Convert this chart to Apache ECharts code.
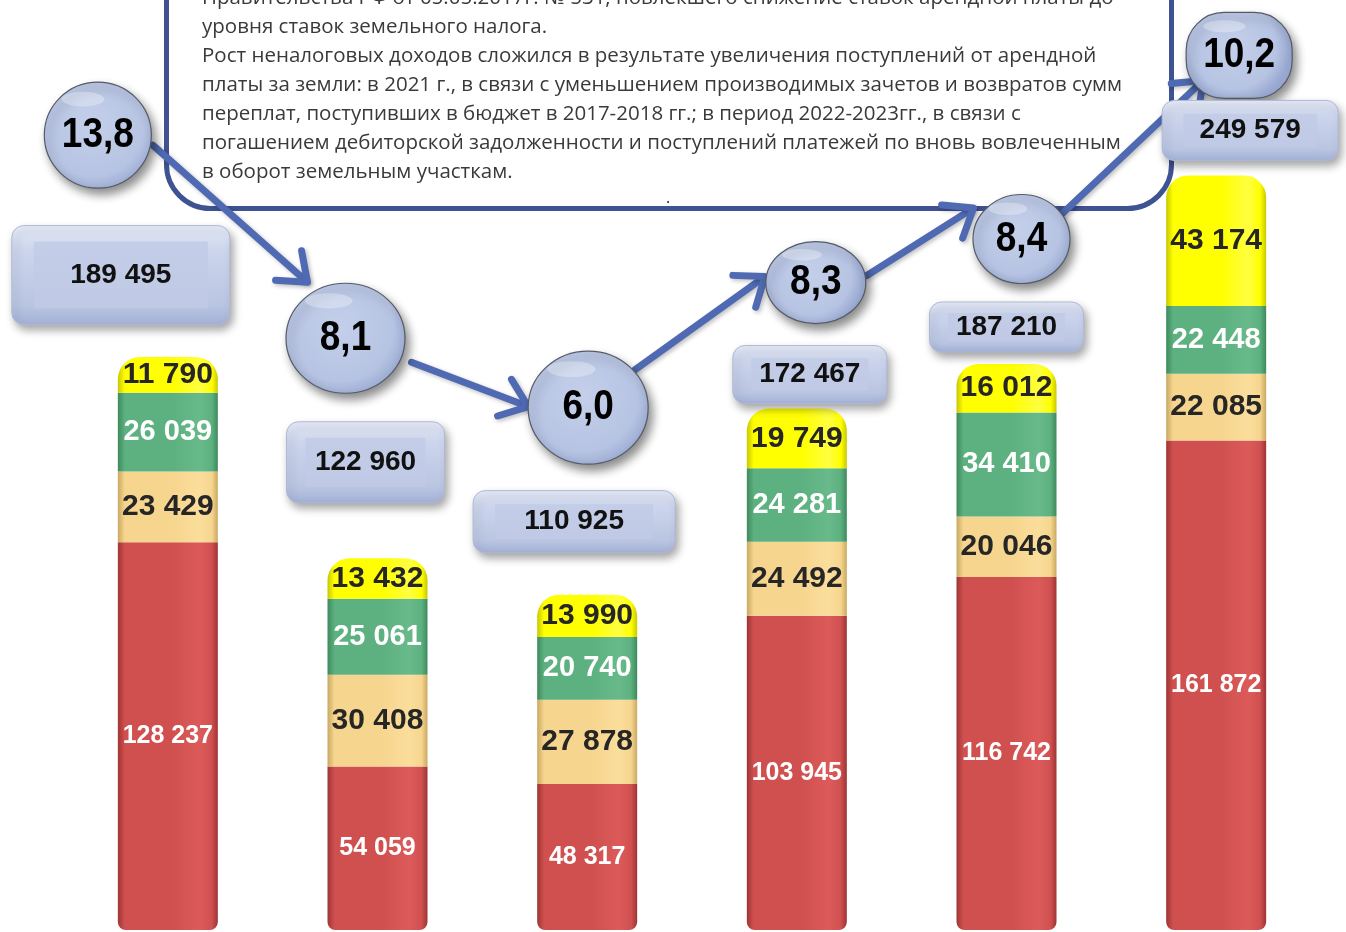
<!DOCTYPE html>
<html>
<head>
<meta charset="utf-8">
<script src="https://cdn.jsdelivr.net/npm/echarts@6/dist/echarts.min.js"></script>
<style>
  html, body { margin: 0; padding: 0; background: #fff; }
  #chart { width: 1346px; height: 932px; }
</style>
</head>
<body>
<div id="chart"></div>
<script>
// hidden category axis (years are not printed in the picture)
const years = ['2018', '2019', '2020', '2021', '2022', '2023'];

// stacked parts, bottom to top
const partRed = [128237, 54059, 48317, 103945, 116742, 161872];
const partBeige = [23429, 30408, 27878, 24492, 20046, 22085];
const partGreen = [26039, 25061, 20740, 24281, 34410, 22448];
const partYellow = [11790, 13432, 13990, 19749, 16012, 43174];
const totals = [189495, 122960, 110925, 172467, 187210, 249579];
const rates = [13.8, 8.1, 6.0, 8.3, 8.4, 10.2];

const noteLines = [
  'Правительства РФ от 05.05.2017г. № 531, повлекшего снижение ставок арендной платы до',
  'уровня ставок земельного налога.',
  'Рост неналоговых доходов сложился в результате увеличения поступлений от арендной',
  'платы за земли: в 2021 г., в связи с уменьшением производимых зачетов и возвратов сумм',
  'переплат, поступивших в бюджет в 2017-2018 гг.; в период 2022-2023гг., в связи с',
  'погашением дебиторской задолженности и поступлений платежей по вновь вовлеченным',
  'в оборот земельным участкам.'
];

// layout only: pixel nudges of the callouts from the top of their bar
const totalBoxLayout = [[-47, -82, 218, 99], [-12, -96, 158, 81], [-13, -73, 202, 62],
  [13, -34, 154, 58], [0, -37, 154, 50], [34, -45, 176, 60]];
const rateBubbleLayout = [[-70, -222, 107, 106], [-32, -220, 119, 110], [1, -187, 120, 113],
  [19, -126, 100, 82], [15, -125, 97, 89], [23, -120, 106, 86]];
const arrowLayout = [[[55, 10], [-38, -56]], [[66, 24], [-60, -1]], [[47, -38], [-51, -6]],
  [[51, -7], [-48, -31]], [[34, -19], [-36, 25]]];

const fmt = v => String(v).replace(/\B(?=(\d{3})+(?!\d))/g, ' ');
const fmtRate = v => v.toFixed(1).replace('.', ',');

function cylinder(dark, base, light) {
  return new echarts.graphic.LinearGradient(0, 0, 1, 0, [
    { offset: 0, color: dark },
    { offset: 0.07, color: base },
    { offset: 0.55, color: base },
    { offset: 0.82, color: light },
    { offset: 0.94, color: base },
    { offset: 1, color: dark }
  ]);
}

function barSeries(name, data, colors, labelColor, labelSize, radius) {
  return {
    name,
    type: 'bar',
    stack: 'total',
    barWidth: 100,
    data,
    z: 3,
    itemStyle: {
      color: cylinder(colors[0], colors[1], colors[2]),
      borderRadius: radius
    },
    label: {
      show: true,
      position: 'inside',
      formatter: p => fmt(p.value),
      color: labelColor,
      fontFamily: 'Liberation Sans',
      fontWeight: 'bold',
      fontSize: labelSize
    }
  };
}

const chart = echarts.init(document.getElementById('chart'));

chart.setOption({
  animation: false,
  backgroundColor: '#fff',
  grid: { left: 63, right: 25, top: 23, bottom: 2 },
  xAxis: { type: 'category', data: years, show: false },
  yAxis: { type: 'value', min: 0, max: 300000, show: false },
  graphic: [
    {
      type: 'rect',
      z: 1,
      shape: { x: 166.5, y: -60, width: 1005, height: 268.5, r: 44 },
      style: { fill: '#fff', stroke: '#3F5291', lineWidth: 5 }
    },
    {
      type: 'text',
      z: 2,
      x: 202,
      y: -16.5,
      style: {
        text: noteLines.join('\n'),
        fill: '#3A3A3A',
        fontFamily: 'Open Sans',
        fontSize: 20.5,
        lineHeight: 29,
        verticalAlign: 'top'
      }
    },
    {
      type: 'text',
      z: 2,
      x: 666,
      y: 190,
      style: { text: '.', fill: '#222', fontFamily: 'Open Sans', fontSize: 16 }
    }
  ],
  series: [
    barSeries('red', partRed, ['#9E3434', '#D05050', '#DC5A5A'], '#fff', 25, [0, 0, 8, 8]),
    barSeries('beige', partBeige, ['#C9A862', '#F6D58E', '#FBDE9C'], '#262626', 30, 0),
    barSeries('green', partGreen, ['#3E8A5D', '#5DB07F', '#68BA8A'], '#fff', 29, 0),
    barSeries('yellow', partYellow, ['#C8C800', '#FFFF00', '#FFFF40'], '#262626', 30, [22, 22, 0, 0]),
    {
      // arrows between the growth bubbles
      type: 'custom',
      z: 5,
      data: totals.slice(0, -1).map((t, i) => [i, t]),
      renderItem: (params, api) => {
        const i = api.value(0);
        const a = api.coord([i, totals[i]]);
        const b = api.coord([i + 1, totals[i + 1]]);
        const [s, e] = arrowLayout[i];
        const x1 = a[0] + rateBubbleLayout[i][0] + s[0];
        const y1 = a[1] + rateBubbleLayout[i][1] + s[1];
        const x2 = b[0] + rateBubbleLayout[i + 1][0] + e[0];
        const y2 = b[1] + rateBubbleLayout[i + 1][1] + e[1];
        const ang = Math.atan2(y2 - y1, x2 - x1);
        const len = 32, spread = 0.66;
        const h1 = [x2 - len * Math.cos(ang - spread), y2 - len * Math.sin(ang - spread)];
        const h2 = [x2 - len * Math.cos(ang + spread), y2 - len * Math.sin(ang + spread)];
        const st = { stroke: '#4F6AB3', lineWidth: 7, lineCap: 'round', lineJoin: 'round', fill: null,
          shadowBlur: 4, shadowOffsetX: 2, shadowOffsetY: 2, shadowColor: 'rgba(0,0,0,0.25)' };
        return {
          type: 'group',
          children: [
            { type: 'line', shape: { x1, y1, x2: x2 - 3 * Math.cos(ang), y2: y2 - 3 * Math.sin(ang) }, style: st },
            { type: 'polyline', shape: { points: [h1, [x2, y2], h2] }, style: st }
          ]
        };
      }
    },
    {
      // growth rate bubbles
      type: 'custom',
      z: 6,
      data: rates.map((r, i) => [i, totals[i], r]),
      renderItem: (params, api) => {
        const i = api.value(0);
        const p = api.coord([i, api.value(1)]);
        const [dx, dy, w, h] = rateBubbleLayout[i];
        const cx = p[0] + dx, cy = p[1] + dy;
        const last = i === rates.length - 1;
        const fill = new echarts.graphic.RadialGradient(0.45, 0.4, 0.65, [
          { offset: 0, color: '#C4D0EA' },
          { offset: 0.75, color: '#B6C3E2' },
          { offset: 1, color: '#98A8D0' }
        ]);
        const shape = last
          ? { type: 'rect', shape: { x: cx - w / 2, y: cy - h / 2, width: w, height: h, r: 38 } }
          : { type: 'ellipse', shape: { cx, cy, rx: w / 2, ry: h / 2 } };
        shape.style = { fill, stroke: '#555A66', lineWidth: 1.2,
          shadowBlur: 10, shadowOffsetX: 4, shadowOffsetY: 6, shadowColor: 'rgba(0,0,0,0.45)' };
        return {
          type: 'group',
          children: [
            shape,
            {
              type: 'ellipse',
              shape: { cx: cx - w * 0.14, cy: cy - h * 0.34, rx: w * 0.2, ry: h * 0.07 },
              style: { fill: 'rgba(255,255,255,0.3)' }
            },
            {
              type: 'text',
              x: cx,
              y: cy,
              scaleY: 1.15,
              style: {
                text: fmtRate(api.value(2)),
                fill: '#000',
                fontFamily: 'Liberation Sans',
                fontWeight: 'bold',
                fontSize: 37,
                align: 'center',
                verticalAlign: 'middle'
              }
            }
          ]
        };
      }
    },
    {
      // total value buttons
      type: 'custom',
      z: 6,
      data: totals.map((t, i) => [i, t]),
      renderItem: (params, api) => {
        const i = api.value(0);
        const p = api.coord([i, api.value(1)]);
        const [dx, dy, w, h] = totalBoxLayout[i];
        const cx = p[0] + dx, cy = p[1] + dy;
        const x = cx - w / 2, y = cy - h / 2;
        const insetX = Math.min(22, w * 0.12), insetY = Math.min(16, h * 0.22);
        return {
          type: 'group',
          children: [
            {
              type: 'rect',
              shape: { x, y, width: w, height: h, r: 12 },
              style: {
                fill: new echarts.graphic.LinearGradient(0, 0, 0, 1, [
                  { offset: 0, color: '#E6EBF7' },
                  { offset: 0.25, color: '#CCD5EC' },
                  { offset: 0.8, color: '#BAC5E2' },
                  { offset: 1, color: '#A3B1D6' }
                ]),
                stroke: '#AEB9D6',
                lineWidth: 1,
                shadowBlur: 8, shadowOffsetX: 3, shadowOffsetY: 5, shadowColor: 'rgba(0,0,0,0.35)'
              }
            },
            {
              type: 'rect',
              shape: { x: x + insetX, y: y + insetY, width: w - 2 * insetX, height: h - 2 * insetY },
              style: { fill: '#C0CAE6', opacity: 0.8 }
            },
            {
              type: 'text',
              x: cx,
              y: cy,
              style: {
                text: fmt(api.value(1)),
                fill: '#111',
                fontFamily: 'Liberation Sans',
                fontWeight: 'bold',
                fontSize: 28,
                align: 'center',
                verticalAlign: 'middle'
              }
            }
          ]
        };
      }
    }
  ]
});
</script>
</body>
</html>
